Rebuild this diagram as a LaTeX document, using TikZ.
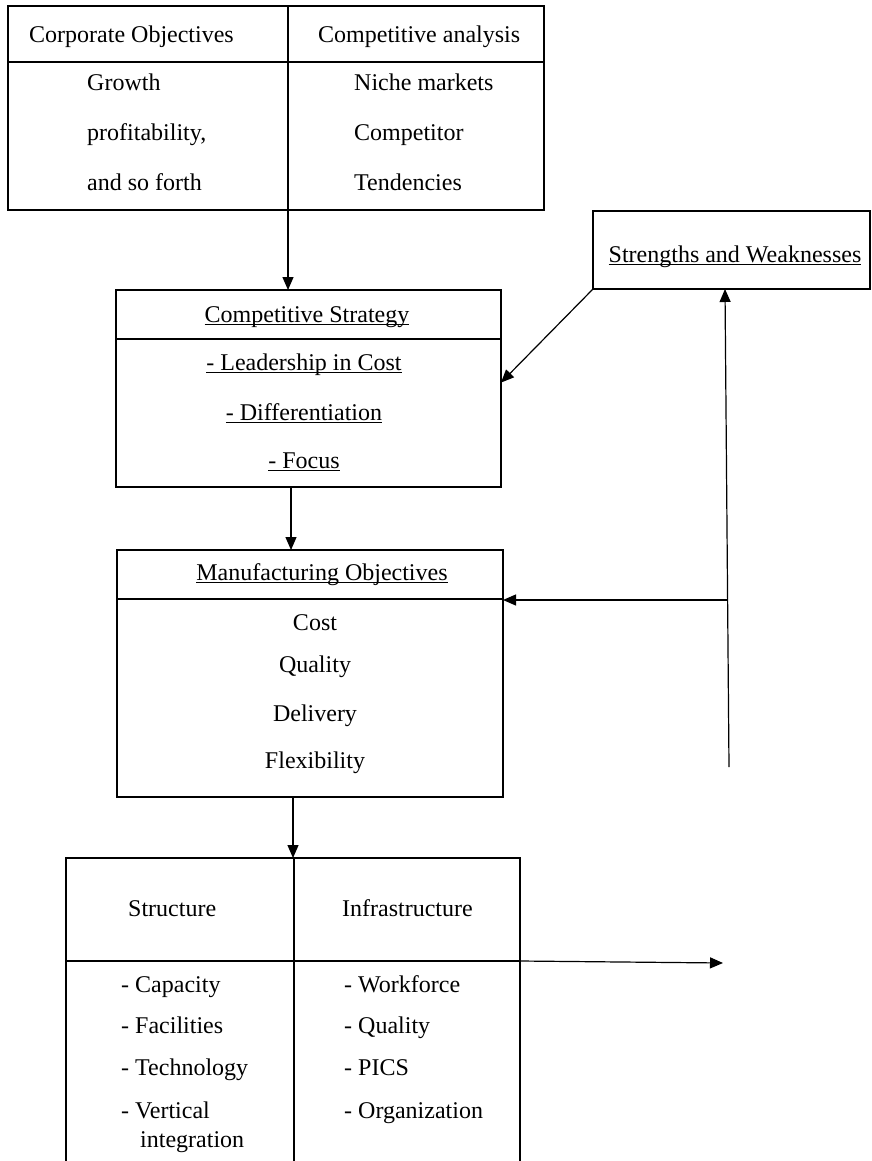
\documentclass[tikz,border=0pt]{standalone}
\usepackage{fontspec}
\setmainfont{Liberation Serif}
\usetikzlibrary{arrows.meta,calc}
% underline drawn at a fixed depth below the baseline
\newcommand\ulx[1]{\setbox0\hbox{#1}\rlap{\rule[-3.2pt]{\wd0}{1.2pt}}\box0}
\begin{document}
\begin{tikzpicture}[x=1pt,y=-1pt,
  frame/.style={draw, line width=1.8pt, inner sep=0pt, outer sep=0pt, anchor=north west},
  rule/.style={line width=1.8pt},
  link/.style={line width=1.2pt, -{Triangle[length=13pt,width=11pt]}},
  txt/.style={font=\fontsize{24}{28}\selectfont, inner sep=0pt, anchor=base},
  txtl/.style={txt, anchor=base west}]
\useasboundingbox (0,0) rectangle (871,1161);
\clip (0,0) rectangle (871,1161);
\fill[white] (0,0) rectangle (871,1161);

% boxes
\node[frame, minimum width=536pt, minimum height=204pt] (top) at (8,6) {};
\node[frame, minimum width=385pt, minimum height=197pt] (cs) at (116,290) {};
\node[frame, minimum width=277pt, minimum height=78pt] (sw) at (593,211) {};
\node[frame, minimum width=386pt, minimum height=247pt] (mo) at (117,550) {};
\node[frame, minimum width=454pt, minimum height=330pt] (bt) at (66,858) {};

% inner rules
\draw[rule] (288,6) -- (288,210);
\draw[rule] (8,62) -- (544,62);
\draw[rule] (116,339) -- (501,339);
\draw[rule] (117,599) -- (503,599);
\draw[rule] (294,858) -- (294,1161);
\draw[rule] (66,961) -- (520,961);

% top table
\node[txtl] (co) at (29,43) {Corporate Objectives};
\node[txtl] (ca) at (318,43) {Competitive analysis};
\node[txtl] (g1) at (87,91) {Growth};
\node[txtl] (g2) at (87,141) {profitability,};
\node[txtl] (g3) at (87,190) {and so forth};
\node[txtl] (n1) at (354,91) {Niche markets};
\node[txtl] (n2) at (354,141) {Competitor};
\node[txtl] (n3) at (354,190) {Tendencies};

% competitive strategy
\node[txt] (csh) at (307,322) {\ulx{Competitive Strategy}};
\node[txt] (cs1) at (304,370) {\ulx{- Leadership in Cost}};
\node[txt] (cs2) at (304,420) {\ulx{- Differentiation}};
\node[txt] (cs3) at (304,468) {\ulx{- Focus}};

% strengths and weaknesses
\node[txt] (swt) at (735,262) {\ulx{Strengths and Weaknesses}};

% manufacturing objectives
\node[txt] (moh) at (322,580) {\ulx{Manufacturing Objectives}};
\node[txt] (mo1) at (315,630) {Cost};
\node[txt] (mo2) at (315,672) {Quality};
\node[txt] (mo3) at (315,721) {Delivery};
\node[txt] (mo4) at (315,768) {Flexibility};

% structure / infrastructure
\node[txtl] (st) at (128,916) {Structure};
\node[txtl] (in) at (342,916) {Infrastructure};
\node[txtl] (s1) at (121,992) {- Capacity};
\node[txtl] (s2) at (121,1033) {- Facilities};
\node[txtl] (s3) at (121,1075) {- Technology};
\node[txtl] (s4) at (121,1118) {- Vertical};
\node[txtl] (s5) at (140,1147) {integration};
\node[txtl] (i1) at (344,992) {- Workforce};
\node[txtl] (i2) at (344,1033) {- Quality};
\node[txtl] (i3) at (344,1075) {- PICS};
\node[txtl] (i4) at (344,1118) {- Organization};

% connectors
\coordinate (topdiv) at (288,210);
\draw[link] (topdiv) -- (topdiv |- cs.north);
\draw[link] (sw.south west) -- ($(cs.north east)!0.47!(cs.south east)$);
\draw[link] ([xshift=-17.5pt]cs.south) -- ([xshift=-17.5pt]cs.south |- mo.north);
\coordinate (fb) at (729,767);
\coordinate (fbj) at (727.6,600);
\draw[link] (fb) -- ([xshift=-6.5pt]sw.south);
\draw[link] (fbj) -- (mo.east |- fbj);
\draw[link] ([xshift=-17pt]mo.south) -- ([xshift=-17pt]mo.south |- bt.north);
\coordinate (out) at (723,963);
\draw[link] ([yshift=-103pt]bt.north east) -- (out);
\end{tikzpicture}
\end{document}
